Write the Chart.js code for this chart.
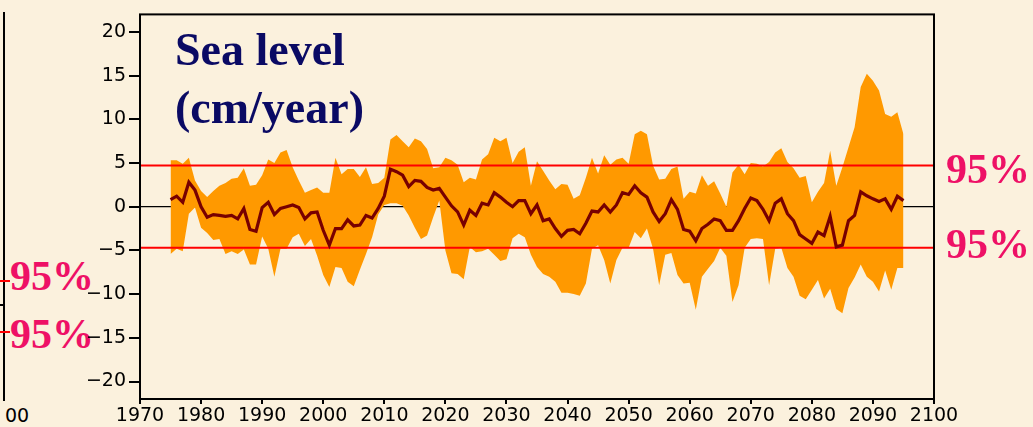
<!DOCTYPE html>
<html lang="en">
<head>
    <meta charset="UTF-8">
    <title>Sea level (cm/year)</title>
    <style>
        html, body { margin: 0; padding: 0; }
        body { width: 1033px; height: 427px; background: #fbf1dd; position: relative; overflow: hidden; }
        #chart { position: absolute; left: 0; top: 0; }
        .lbl { position: absolute; line-height: 1; white-space: nowrap; }
        .title { font-family: "Liberation Serif", "Times New Roman", serif; font-weight: bold; font-size: 46px; color: #0a0a64; left: 175px; }
        .pct { font-family: "Liberation Serif", "Times New Roman", serif; font-weight: bold; font-size: 42px; color: #ee1166; }
        .tk { font-family: "DejaVu Sans", sans-serif; font-size: 19px; color: #000; }
        .ln { position: absolute; }
    </style>
</head>
<body>
    <!-- edge of the neighbouring panel -->
    <div class="ln" style="left:3px;top:12px;width:2px;height:389px;background:#000"></div>
    <div class="ln" style="left:0;top:304px;width:4px;height:2px;background:#000"></div>
    <div class="ln" style="left:0;top:280px;width:10px;height:2px;background:#ff0000"></div>
    <div class="ln" style="left:0;top:331px;width:10px;height:2px;background:#ff0000"></div>
    <div class="lbl pct" style="left:10px;top:255px">95%</div>
    <div class="lbl pct" style="left:10px;top:313px">95%</div>
    <div class="lbl tk" style="left:5px;top:406px">00</div>

    <canvas id="chart" width="1033" height="427"></canvas>

    <div class="lbl title" style="top:27px">Sea level</div>
    <div class="lbl title" style="top:85px">(cm/year)</div>
    <div class="lbl pct" style="left:946px;top:148px">95%</div>
    <div class="lbl pct" style="left:946px;top:223px">95%</div>

    <script src="https://cdn.jsdelivr.net/npm/chart.js@4.4.1/dist/chart.umd.min.js"></script>
    <script>
        // annual values 1975..2095
        const startYear = 1975
        const meanVals = [
            0.8, 1.2, 0.5, 2.8, 1.9, 0.0, -1.2, -0.9, -1.0, -1.1,
            -1.0, -1.4, -0.2, -2.6, -2.8, -0.1, 0.5, -0.9, -0.2, 0.0,
            0.2, -0.1, -1.4, -0.7, -0.6, -2.7, -4.4, -2.5, -2.5, -1.5,
            -2.2, -2.1, -1.0, -1.3, -0.2, 1.2, 4.3, 4.0, 3.6, 2.3,
            3.0, 2.9, 2.2, 1.9, 2.1, 1.1, 0.1, -0.6, -2.1, -0.4,
            -1.0, 0.4, 0.2, 1.6, 1.1, 0.5, 0.0, 0.7, 0.7, -0.8,
            0.2, -1.6, -1.4, -2.5, -3.4, -2.7, -2.6, -3.1, -1.9, -0.5,
            -0.6, 0.2, -0.6, 0.2, 1.6, 1.4, 2.4, 1.6, 1.1, -0.6,
            -1.7, -0.8, 0.8, -0.3, -2.6, -2.8, -3.9, -2.5, -2.0, -1.4,
            -1.6, -2.7, -2.7, -1.6, -0.2, 1.0, 0.7, -0.3, -1.6, 0.4,
            0.9, -0.8, -1.6, -3.2, -3.7, -4.2, -2.9, -3.3, -1.1, -4.6,
            -4.4, -1.6, -1.0, 1.7, 1.25, 0.9, 0.6, 0.9, -0.3, 1.2,
            0.7
        ]
        const upperVals = [
            5.3, 5.3, 4.9, 5.6, 3.0, 1.8, 1.1, 1.8, 2.4, 2.7,
            3.2, 3.3, 4.4, 2.4, 2.5, 3.6, 5.4, 5.0, 6.2, 6.5,
            4.5, 3.0, 1.6, 1.9, 2.2, 1.6, 1.6, 5.6, 3.7, 4.3,
            4.3, 3.4, 4.5, 2.6, 2.7, 3.3, 7.7, 8.2, 7.5, 6.8,
            7.8, 7.5, 6.6, 4.4, 4.5, 5.6, 5.3, 4.8, 2.8, 3.3,
            3.1, 5.4, 6.0, 7.9, 7.5, 7.9, 5.0, 6.3, 6.8, 2.4,
            5.2, 4.1, 3.0, 2.0, 2.6, 2.5, 0.9, 1.3, 3.3, 5.6,
            3.8, 5.9, 4.8, 5.4, 5.6, 4.9, 8.3, 8.7, 8.3, 4.7,
            3.1, 3.2, 4.3, 4.6, 0.9, 1.7, 1.5, 3.6, 2.4, 2.9,
            1.5, 0.0, 3.9, 4.8, 3.7, 5.0, 4.9, 4.6, 5.1, 6.2,
            6.7, 5.1, 4.4, 3.3, 3.5, 0.5, 1.7, 2.7, 6.4, 2.4,
            4.5, 6.8, 9.1, 13.7, 15.2, 14.4, 13.3, 10.6, 10.3, 10.8,
            8.3
        ]
        const lowerVals = [
            -5.4, -4.8, -5.1, -0.8, -0.1, -2.4, -3.0, -3.8, -3.7, -5.4,
            -5.1, -5.4, -4.9, -6.6, -6.6, -3.4, -4.8, -8.0, -4.8, -4.8,
            -3.5, -3.1, -4.5, -3.7, -5.6, -7.8, -9.2, -6.9, -7.0, -8.6,
            -9.1, -7.2, -5.4, -3.5, -0.9, 0.2, 0.4, 0.4, 0.1, -1.0,
            -2.4, -3.7, -3.3, -1.2, 0.7, -5.0, -7.6, -7.7, -8.3, -4.6,
            -5.2, -5.1, -4.8, -5.5, -6.2, -6.0, -3.6, -3.1, -3.5, -5.5,
            -6.9, -7.7, -8.0, -8.6, -9.85, -9.85, -10.0, -10.2, -8.8, -4.8,
            -4.4, -6.1, -8.8, -6.1, -4.7, -4.7, -2.9, -3.6, -2.5, -4.8,
            -9.0, -5.5, -5.3, -7.8, -8.8, -8.7, -11.8, -8.0, -7.1, -6.2,
            -4.7, -5.6, -10.9, -9.0, -4.7, -3.7, -3.6, -3.7, -9.0, -4.8,
            -4.7, -7.0, -8.0, -10.2, -10.6, -9.5, -8.4, -10.5, -9.4, -11.7,
            -12.2, -9.3, -8.1, -6.6, -8.0, -8.6, -9.7, -7.3, -9.5, -7.0,
            -7.0
        ]
        const limit95 = 4.7
        const xTickVals = [1970, 1980, 1990, 2000, 2010, 2020, 2030, 2040, 2050, 2060, 2070, 2080, 2090, 2100]
        const yTickVals = [-20, -15, -10, -5, 0, 5, 10, 15, 20]

        const toPts = vals => vals.map((v, i) => ({x: startYear + i, y: v}))
        const hline = v => [{x: 1970, y: v}, {x: 2100, y: v}]
        const noPts = {pointRadius: 0, pointHoverRadius: 0, tension: 0}

        const frame = {
            id: 'frame',
            afterDatasetsDraw(chart){
                const a = chart.chartArea
                const ctx = chart.ctx
                ctx.save()
                ctx.strokeStyle = '#000'
                ctx.lineWidth = 2
                ctx.strokeRect(a.left, a.top, a.right - a.left, a.bottom - a.top)
                ctx.restore()
            }
        }

        new Chart(document.getElementById('chart'), {
            type: 'line',
            data: {
                datasets: [
                    Object.assign({data: toPts(meanVals), borderColor: '#780000', borderWidth: 3.2, fill: false}, noPts),
                    Object.assign({data: hline(limit95), borderColor: '#ff0000', borderWidth: 2, fill: false}, noPts),
                    Object.assign({data: hline(-limit95), borderColor: '#ff0000', borderWidth: 2, fill: false}, noPts),
                    Object.assign({data: toPts(upperVals), borderColor: 'rgba(0,0,0,0)', borderWidth: 0, backgroundColor: '#ff9900', fill: '+1'}, noPts),
                    Object.assign({data: toPts(lowerVals), borderColor: 'rgba(0,0,0,0)', borderWidth: 0, fill: false}, noPts),
                    Object.assign({data: hline(0), borderColor: '#000', borderWidth: 1.2, fill: false}, noPts)
                ]
            },
            options: {
                responsive: false,
                animation: false,
                layout: {padding: {top: 12, right: 99, left: 0, bottom: 0}},
                plugins: {legend: {display: false}, tooltip: {enabled: false}},
                scales: {
                    x: {
                        type: 'linear',
                        min: 1970,
                        max: 2100,
                        afterBuildTicks(scale){ scale.ticks = xTickVals.map(v => ({value: v})) },
                        afterFit(scale){ scale.height = 28 },
                        border: {display: false},
                        grid: {drawOnChartArea: false, drawTicks: true, tickLength: 5, color: '#000', lineWidth: 2},
                        ticks: {
                            color: '#000',
                            padding: 1,
                            maxRotation: 0,
                            autoSkip: false,
                            font: {family: 'DejaVu Sans', size: 19},
                            callback: v => String(v)
                        }
                    },
                    y: {
                        min: -22,
                        max: 22,
                        afterBuildTicks(scale){ scale.ticks = yTickVals.map(v => ({value: v})) },
                        afterFit(scale){ scale.width = 140 },
                        border: {display: false},
                        grid: {drawOnChartArea: false, drawTicks: true, tickLength: 11, color: '#000', lineWidth: 2},
                        ticks: {
                            color: '#000',
                            padding: 3,
                            autoSkip: false,
                            font: {family: 'DejaVu Sans', size: 19},
                            callback: v => v < 0 ? '\u2212' + Math.abs(v) : String(v)
                        }
                    }
                }
            },
            plugins: [frame]
        })
    </script>
</body>
</html>
